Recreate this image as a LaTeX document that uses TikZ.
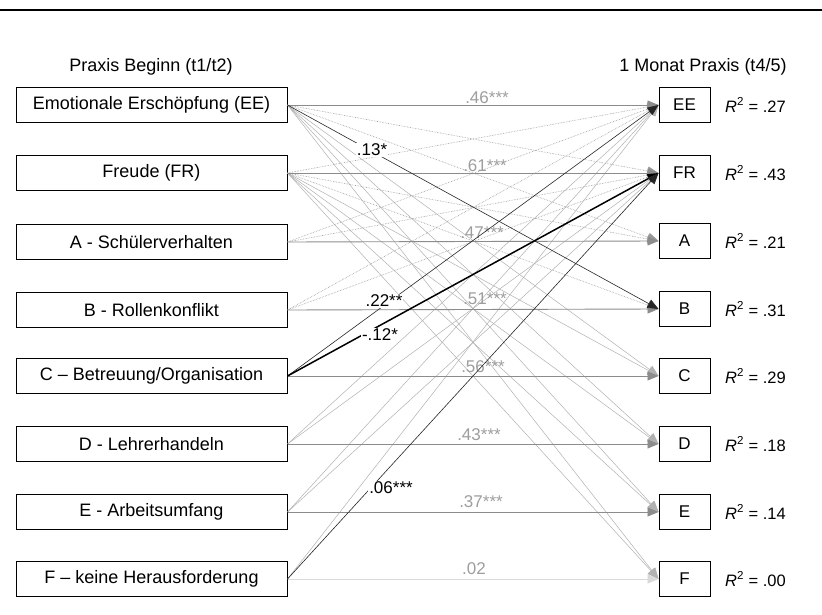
\documentclass[tikz,border=0pt]{standalone}
\usepackage{fontspec}
\setmainfont{Liberation Sans}
\usetikzlibrary{arrows.meta}
\definecolor{autog}{gray}{0.55}
\definecolor{dotg}{gray}{0.6}
\definecolor{ling}{gray}{0.7}
\definecolor{labg}{gray}{0.62}
\begin{document}
\begin{tikzpicture}[x=1pt,y=-1pt,
  txt/.style={font=\fontsize{18}{21}\selectfont},
  mtxt/.style={font=\fontsize{17}{20}\selectfont},
  lbox/.style={txt,draw=black,line width=1pt,minimum width=271pt,minimum height=35pt,inner sep=0pt},
  rbox/.style={mtxt,draw=black,line width=1pt,minimum width=51pt,minimum height=35pt,inner sep=0pt},
  gtip/.style={-{Triangle[length=11pt,width=9pt]}},
  autoarr/.style={gtip,draw=autog,line width=0.9pt},
  autolight/.style={gtip,draw=gray!30,line width=0.9pt},
  nsdot/.style={gtip,draw=dotg,densely dotted,line width=0.6pt},
  nsline/.style={gtip,draw=ling,line width=0.5pt},
  sigthin/.style={-{Triangle[length=11pt,width=9pt]},draw=black!85,line width=0.6pt},
  sigthick/.style={-{Triangle[length=11pt,width=9pt]},draw=black,line width=1.5pt},
  glab/.style={mtxt,text=labg,inner sep=1pt},
  blab/.style={mtxt,text=black,fill=white,inner sep=1pt},
  rsq/.style={font=\fontsize{16.5}{19}\selectfont,anchor=west,inner sep=0pt}
]
\useasboundingbox (0,0) rectangle (822,615);
\path[fill=white] (0,0) rectangle (822,615);
\coordinate (tl) at (0,10);
\coordinate (tr) at (822,10);
\draw[line width=1.2pt] (tl) -- (tr);

\node[txt] (hl) at (151,67) {Praxis Beginn (t1/t2)};
\node[txt] (hr) at (703,67) {1 Monat Praxis (t4/5)};

% left boxes
\node[lbox] (lEE) at (151.5,105) {Emotionale Erschöpfung (EE)};
\node[lbox] (lFR) at (151.5,173) {Freude (FR)};
\node[lbox] (lA) at (151.5,242) {A - Schülerverhalten};
\node[lbox] (lB) at (151.5,310) {B - Rollenkonflikt};
\node[lbox] (lC) at (151.5,376) {C – Betreuung/Organisation};
\node[lbox] (lD) at (151.5,444) {D - Lehrerhandeln};
\node[lbox] (lE) at (151.5,512) {E - Arbeitsumfang};
\node[lbox] (lF) at (151.5,579) {F – keine Herausforderung};

% right boxes
\node[rbox] (rEE) at (684.5,105) {EE};
\node[rbox] (rFR) at (684.5,173) {FR};
\node[rbox] (rA) at (684.5,241) {A};
\node[rbox] (rB) at (684.5,309) {B};
\node[rbox] (rC) at (684.5,376) {C};
\node[rbox] (rD) at (684.5,444) {D};
\node[rbox] (rE) at (684.5,512) {E};
\node[rbox] (rF) at (684.5,579) {F};

% R squared
\node[rsq] (q1) at (725,105) {\textit{R}\textsuperscript{2} = .27};
\node[rsq] (q2) at (725,173) {\textit{R}\textsuperscript{2} = .43};
\node[rsq] (q3) at (725,241) {\textit{R}\textsuperscript{2} = .21};
\node[rsq] (q4) at (725,309) {\textit{R}\textsuperscript{2} = .31};
\node[rsq] (q5) at (725,376) {\textit{R}\textsuperscript{2} = .29};
\node[rsq] (q6) at (725,444) {\textit{R}\textsuperscript{2} = .18};
\node[rsq] (q7) at (725,512) {\textit{R}\textsuperscript{2} = .14};
\node[rsq] (q8) at (725,579) {\textit{R}\textsuperscript{2} = .00};

% non-significant cross paths
\draw[nsdot] (lEE.east) -- (rFR.west);
\draw[nsdot] (lEE.east) -- (rA.west);
\draw[nsline] (lEE.east) -- (rC.west);
\draw[nsline] (lEE.east) -- (rD.west);
\draw[nsline] (lEE.east) -- (rE.west);
\draw[nsline] (lEE.east) -- (rF.west);
\draw[nsdot] (lFR.east) -- (rEE.west);
\draw[nsdot] (lFR.east) -- (rA.west);
\draw[nsdot] (lFR.east) -- (rB.west);
\draw[nsline] (lFR.east) -- (rC.west);
\draw[nsline] (lFR.east) -- (rD.west);
\draw[nsline] (lFR.east) -- (rE.west);
\draw[nsline] (lFR.east) -- (rF.west);
\draw[nsdot] (lA.east) -- (rEE.west);
\draw[nsdot] (lA.east) -- (rFR.west);
\draw[nsdot] (lB.east) -- (rEE.west);
\draw[nsdot] (lB.east) -- (rFR.west);
\draw[nsline] (lD.east) -- (rEE.west);
\draw[nsline] (lD.east) -- (rFR.west);
\draw[nsline] (lE.east) -- (rEE.west);
\draw[nsline] (lE.east) -- (rFR.west);
\draw[nsline] (lF.east) -- (rEE.west);

% autoregressive paths
\draw[autoarr] (lEE.east) -- (rEE.west);
\draw[autoarr] (lFR.east) -- (rFR.west);
\draw[autoarr] (lA.east) -- (rA.west);
\draw[autoarr] (lB.east) -- (rB.west);
\draw[autoarr] (lC.east) -- (rC.west);
\draw[autoarr] (lD.east) -- (rD.west);
\draw[autoarr] (lE.east) -- (rE.west);
\draw[autolight] (lF.east) -- (rF.west);

\node[glab] (c1) at (487,98) {.46***};
\node[glab] (c2) at (485,166) {.61***};
\node[glab] (c3) at (482,233) {.47***};
\node[glab] (c4) at (485,299) {.51***};
\node[glab] (c5) at (483,367) {.56***};
\node[glab] (c6) at (479,435) {.43***};
\node[glab] (c7) at (481,502) {.37***};
\node[glab] (c8) at (474,569) {.02};

% significant cross paths
\draw[sigthin] (lEE.east) -- (rB.west);
\draw[sigthin] (lC.east) -- (rEE.west);
\draw[sigthick] (lC.east) -- (rFR.west);
\draw[sigthin] (lF.east) -- (rFR.west);

\node[blab] (s1) at (372,150) {.13*};
\node[blab] (s2) at (384,301) {.22**};
\node[blab] (s3) at (380,335) {-.12*};
\node[blab] (s4) at (391,488) {.06***};
\end{tikzpicture}
\end{document}
